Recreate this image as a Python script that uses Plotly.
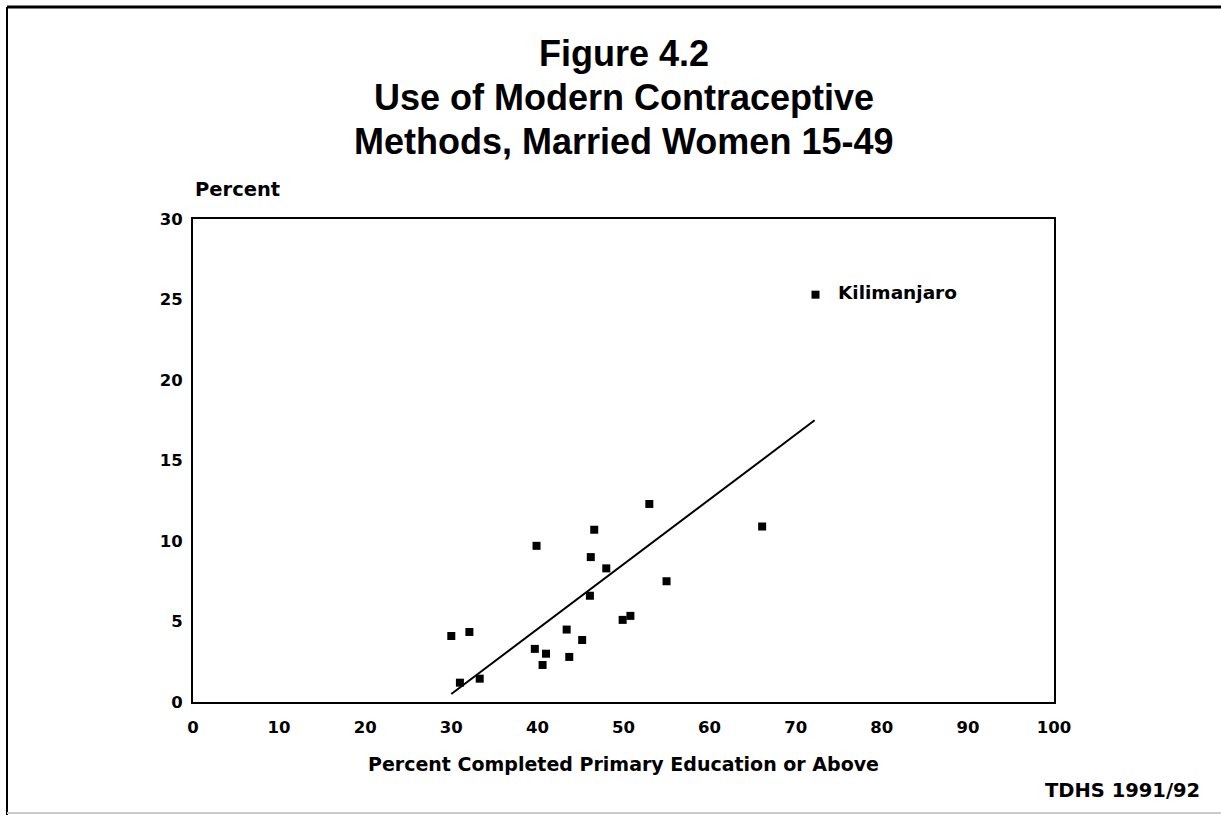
import plotly.graph_objects as go

# Data
edu_pct = [30.0, 32.1, 31.0, 33.3, 39.9, 39.7, 41.0, 40.6, 43.4, 43.7, 45.2,
           46.1, 46.2, 46.6, 48.0, 49.9, 50.8, 53.0, 55.0, 66.1, 72.3]
modern_use = [4.1, 4.35, 1.2, 1.45, 9.7, 3.3, 3.0, 2.3, 4.5, 2.8, 3.85,
              6.6, 9.0, 10.7, 8.3, 5.1, 5.35, 12.3, 7.5, 10.9, 25.3]
label_region = "Kilimanjaro"
label_x = 72.3
label_y = 25.3
fit_x = [30.0, 72.2]
fit_y = [0.5, 17.5]
x_ticks = [0, 10, 20, 30, 40, 50, 60, 70, 80, 90, 100]
y_ticks = [0, 5, 10, 15, 20, 25, 30]
title_lines = ["Figure 4.2", "Use of Modern Contraceptive", "Methods, Married Women 15-49"]

W, H = 1221, 815
L, R, T, B = 193, 1054, 219, 702

def px(p):
    return (p - L) / (R - L)

def py(q):
    return (B - q) / (B - T)

fig = go.Figure()
fig.add_trace(go.Scatter(x=fit_x, y=fit_y, mode="lines",
                         line=dict(color="black", width=2), showlegend=False,
                         hoverinfo="skip"))
fig.add_trace(go.Scatter(x=edu_pct, y=modern_use, mode="markers",
                         marker=dict(symbol="square", size=8, color="black"),
                         showlegend=False))

tick_font = dict(family="DejaVu Sans", size=16.5, color="black", weight="bold")

fig.update_layout(
    width=W, height=H,
    margin=dict(l=L, r=W - R, t=T, b=H - B, pad=0),
    paper_bgcolor="white", plot_bgcolor="white",
    xaxis=dict(range=[0, 100], tickvals=x_ticks, showgrid=False, zeroline=False,
               showline=True, linecolor="black", linewidth=2, mirror=True,
               ticks="", tickfont=tick_font, ticklabelstandoff=9),
    yaxis=dict(range=[0, 30], tickvals=y_ticks, showgrid=False, zeroline=False,
               showline=True, linecolor="black", linewidth=2, mirror=True,
               ticks="", tickfont=tick_font, ticklabelstandoff=5),
)

title_font = dict(family="Liberation Sans", size=36, color="black", weight="bold")
title_tops = [31, 75, 119]
annotations = [
    dict(text=t, x=0.5, y=py(top), xref="paper", yref="paper", xanchor="center",
         yanchor="top", showarrow=False, font=title_font)
    for t, top in zip(title_lines, title_tops)
]
annotations += [
    dict(text="Percent", x=0, y=py(203), xref="paper", yref="paper",
         xanchor="left", yanchor="bottom", showarrow=False,
         font=dict(family="DejaVu Sans", size=19.5, color="black", weight="bold")),
    dict(text="Percent Completed Primary Education or Above", x=0.5, y=py(751),
         xref="paper", yref="paper", xanchor="center", yanchor="top", showarrow=False,
         font=dict(family="DejaVu Sans", size=19, color="black", weight="bold")),
    dict(text="TDHS 1991/92", x=px(1202), y=py(777), xref="paper", yref="paper",
         xanchor="right", yanchor="top", showarrow=False,
         font=dict(family="DejaVu Sans", size=19.5, color="black", weight="bold")),
    dict(text=label_region, x=label_x, y=label_y, xref="x", yref="y",
         xanchor="left", yanchor="middle", xshift=20, yshift=2, showarrow=False,
         font=dict(family="DejaVu Sans", size=18.5, color="black", weight="bold")),
]
fig.update_layout(annotations=annotations)

shapes = [
    dict(type="line", xref="paper", yref="paper", x0=px(7), x1=px(1221), y0=py(7), y1=py(7),
         line=dict(color="black", width=3)),
    dict(type="line", xref="paper", yref="paper", x0=px(7), x1=px(7), y0=py(7), y1=py(815),
         line=dict(color="black", width=2)),
    dict(type="line", xref="paper", yref="paper", x0=px(7), x1=px(1221), y0=py(813), y1=py(813),
         line=dict(color="#cccccc", width=2)),
]
fig.update_layout(shapes=shapes)

fig.write_html("out.html", config={"displayModeBar": False},
               post_script="document.body.style.margin='0';")
